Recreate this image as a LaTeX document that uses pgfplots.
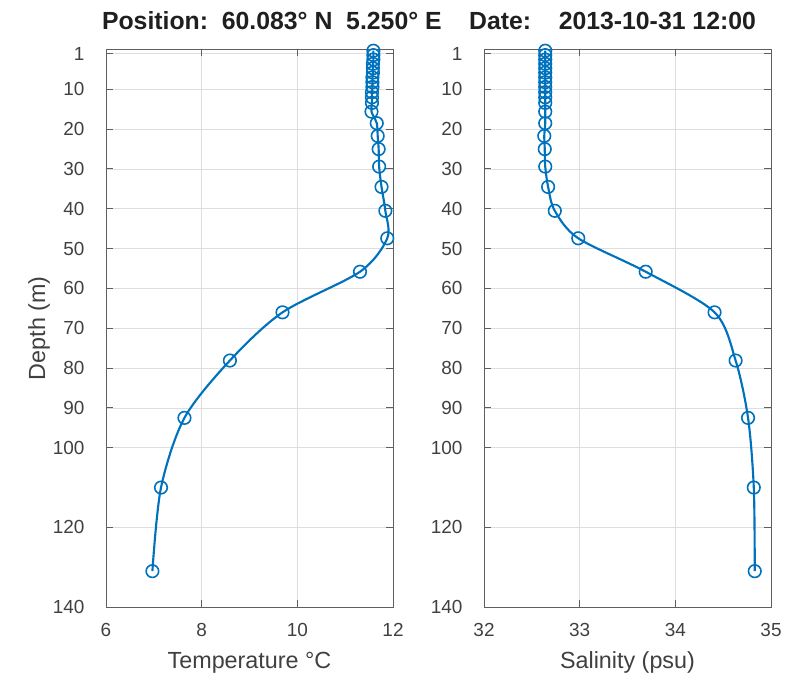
\documentclass[border=0pt]{standalone}
\usepackage{fontspec}
\setmainfont{Liberation Sans}
\usepackage{pgfplots}
\pgfplotsset{compat=1.18}
\definecolor{mblue}{RGB}{0,114,189}
\definecolor{axgray}{RGB}{95,95,95}
\definecolor{txtgray}{RGB}{64,64,64}
\definecolor{gridgray}{RGB}{222,222,222}

\pgfplotsset{
  profile/.style={
    scale only axis, width=215.25pt, height=418.1pt,
    y dir=reverse, ymin=0, ymax=140,
    ytick={1,10,20,30,40,50,60,70,80,90,100,120,140},
    grid=major, major grid style={gridgray, line width=0.6pt},
    axis line style={axgray, line width=0.75pt},
    every tick/.style={axgray, line width=0.75pt},
    major tick length=5pt, tick align=inside,
    tick label style={font=\fontsize{14.2}{16}\selectfont, text=txtgray},
    /pgf/number format/assume math mode=true,
    xticklabel style={yshift=-9pt},
    yticklabel style={xshift=-12.6pt},
    label style={font=\fontsize{17.5}{20}\selectfont, text=txtgray},
    xlabel style={at={(axis description cs:0.5,-0.110)}, anchor=base},
    ylabel style={at={(axis description cs:-0.2125,0.5)}, anchor=base},
  },
  profline/.style={mblue, line width=1.6pt, smooth, mark=o, mark size=4.7pt,
    mark options={line width=1.2pt}},
}

% depth (m), temperature (C), salinity (psu)
\pgfplotstableread{
depth temp sal
0.3   11.59 32.64
1.4   11.59 32.64
2.5   11.59 32.64
3.6   11.58 32.64
4.7   11.58 32.64
5.8   11.58 32.64
7.0   11.57 32.64
8.2   11.57 32.64
9.4   11.57 32.64
10.7  11.56 32.64
12.0  11.56 32.64
13.4  11.56 32.64
15.6  11.55 32.64
18.5  11.66 32.64
21.7  11.68 32.63
25.0  11.70 32.635
29.4  11.71 32.64
34.5  11.76 32.67
40.5  11.84 32.74
47.4  11.88 32.985
55.8  11.31 33.69
66.0  9.69  34.41
78.1  8.59  34.63
92.5  7.64  34.76
110.0 7.15  34.82
131.0 6.97  34.83
}\profdata

\begin{document}
\begin{tikzpicture}
\useasboundingbox (0,0) rectangle (598.5pt,511.5pt);

\begin{axis}[profile, name=L, at={(79.5pt,56.25pt)}, anchor=south west,
  xmin=6, xmax=12, xtick={6,8,10,12},
  xlabel={Temperature °C}, ylabel={Depth (m)}]
\addplot[profline] table[x=temp, y=depth] {\profdata};
\end{axis}

\begin{axis}[profile, name=R, at={(363pt,56.25pt)}, anchor=south west,
  xmin=32, xmax=35, xtick={32,33,34,35},
  xlabel={Salinity (psu)}]
\addplot[profline] table[x=sal, y=depth] {\profdata};
\end{axis}

\node[font=\bfseries\fontsize{18.6}{21}\selectfont, text=black!88, anchor=base]
  at (321.75pt,489.5pt)
  {Position:\ \ 60.083° N\ \ 5.250° E\ \ \ \ Date:\ \ \ \ 2013-10-31 12:00};
\end{tikzpicture}
\end{document}
